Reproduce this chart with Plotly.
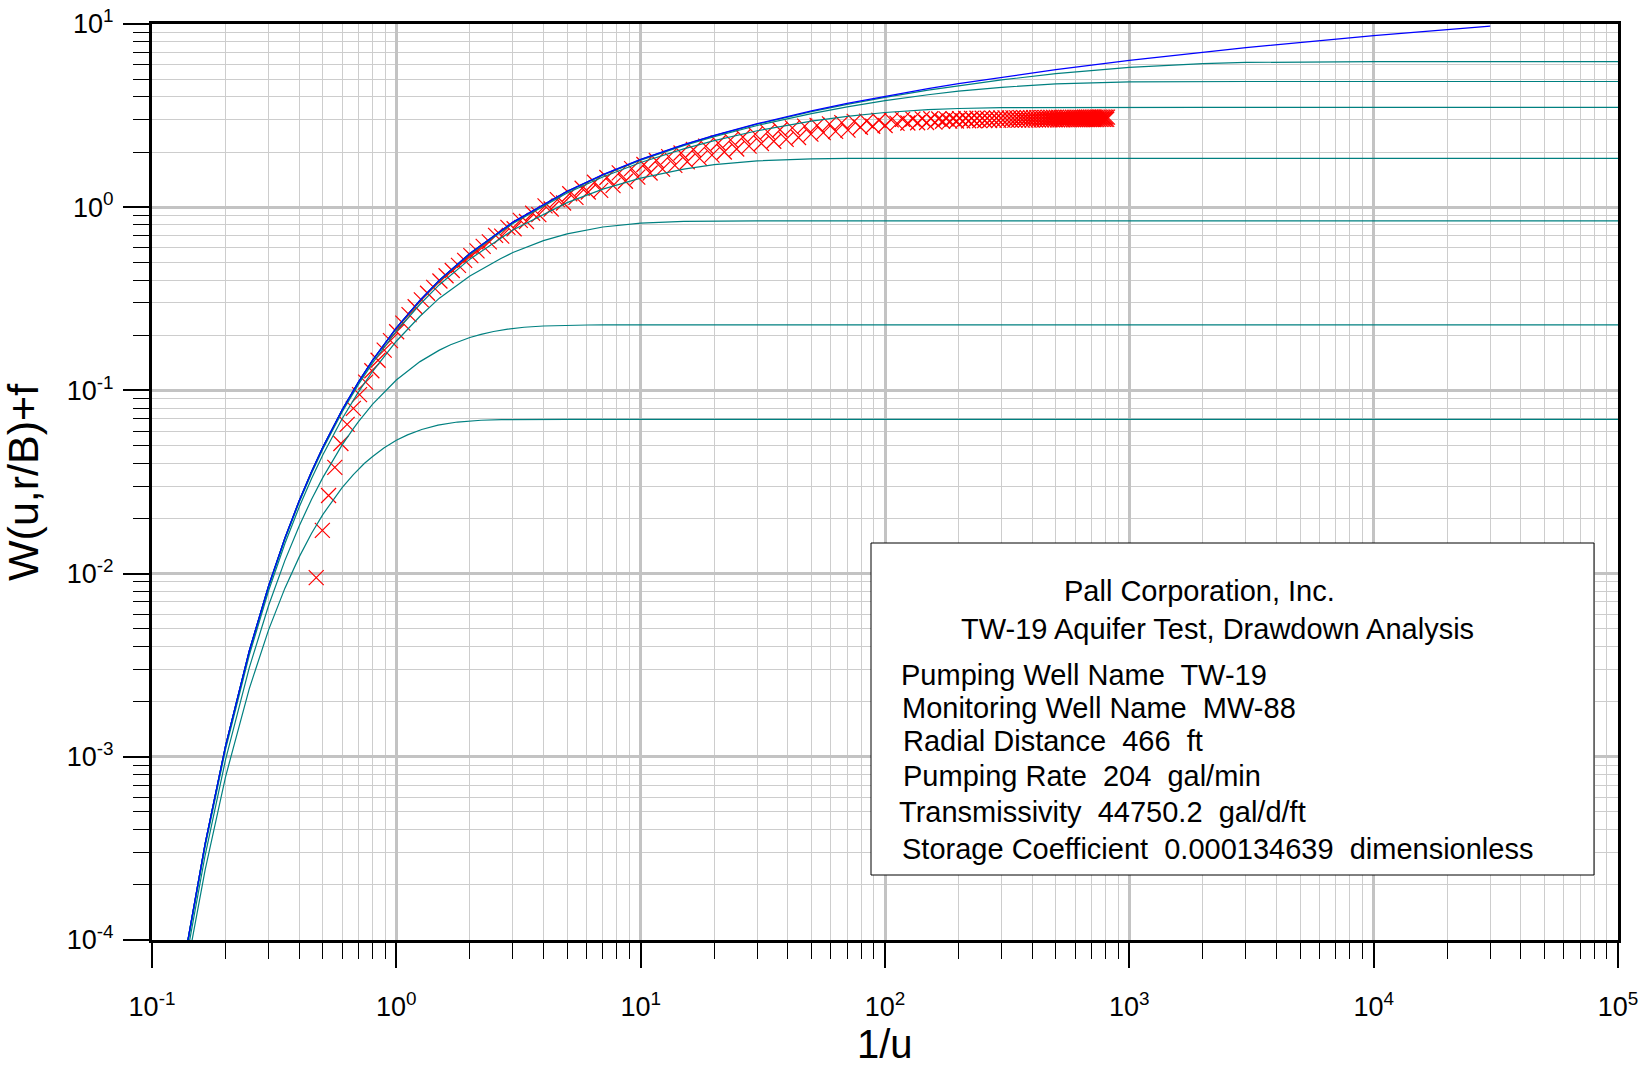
import plotly.graph_objects as go

# ---------------- type curves ----------------
grid_x = [0.14, 0.165, 0.2, 0.25, 0.3, 0.35, 0.4, 0.45, 0.5, 0.6, 0.7, 0.8, 1, 1.25, 1.5, 2, 3, 5, 7, 10,
          15, 20, 30, 50, 70, 100, 150, 200, 300, 500, 1000, 2000, 3000, 10000, 100000]

theis_x = [0.14, 0.165, 0.2, 0.25, 0.3, 0.35, 0.4, 0.45, 0.5, 0.6, 0.7, 0.8, 1, 1.25, 1.5, 2, 3, 5, 7, 10,
           15, 20, 30, 50, 70, 100, 150, 200, 300, 500, 1000, 2000, 3000, 10000, 30000]
theis_w = [9.86e-5, 3.358e-4, 1.148e-3, 3.779e-3, 8.575e-3, 0.015664, 0.02491, 0.03609, 0.0489, 0.07833,
           0.1113, 0.1464, 0.2194, 0.3106, 0.4, 0.5598, 0.829, 1.2227, 1.5067, 1.8229,
           2.1965, 2.4679, 2.857, 3.3547, 3.6856, 4.0379, 4.4401, 4.7261, 5.1299, 5.6394,
           6.3315, 7.0242, 7.4295, 8.6332, 9.732]

rb005_w = [9.86e-5, 3.358e-4, 1.148e-3, 3.779e-3, 8.574e-3, 0.01566, 0.0249, 0.03608, 0.04889, 0.07831,
           0.1113, 0.1463, 0.2193, 0.3104, 0.3998, 0.5594, 0.8282, 1.2209, 1.5038, 1.8184,
           2.1891, 2.4576, 2.8407, 3.3264, 3.6453, 3.9795, 4.3519, 4.6086, 4.9545, 5.3536,
           5.796, 6.082, 6.170, 6.2282, 6.2285]

rb01_w = [9.86e-5, 3.357e-4, 1.148e-3, 3.777e-3, 8.57e-3, 0.01565, 0.02489, 0.03606, 0.04885, 0.07824,
          0.1112, 0.1462, 0.2190, 0.3100, 0.3991, 0.5582, 0.8257, 1.2155, 1.4953, 1.8049,
          2.1672, 2.4271, 2.7929, 3.2442, 3.5294, 3.815, 4.1107, 4.2959, 4.514, 4.7079,
          4.8292, 4.853, 4.8541, 4.8541, 4.8541]

rb02_w = [9.84e-5, 3.353e-4, 1.146e-3, 3.771e-3, 8.554e-3, 0.01562, 0.02483, 0.03596, 0.04871, 0.07798,
          0.1107, 0.1456, 0.2179, 0.3081, 0.3963, 0.5533, 0.8159, 1.1944, 1.4621, 1.7527,
          2.083, 2.3111, 2.6151, 2.9521, 3.135, 3.2875, 3.4059, 3.4567, 3.4924, 3.5043,
          3.5054, 3.5054, 3.5054, 3.5054, 3.5054]

rb05_w = [9.76e-5, 3.327e-4, 1.1355e-3, 3.729e-3, 8.442e-3, 0.015389, 0.02442, 0.03531, 0.04773, 0.07617,
          0.1078, 0.1413, 0.2103, 0.2953, 0.3777, 0.5206, 0.7512, 1.059, 1.255, 1.4416,
          1.6153, 1.7075, 1.7923, 1.8378, 1.8464, 1.8485, 1.8488, 1.8488, 1.8488, 1.8488,
          1.8488, 1.8488, 1.8488, 1.8488, 1.8488]

rb1_x = [0.14, 0.165, 0.2, 0.25, 0.3, 0.35, 0.4, 0.45, 0.5, 0.6, 0.7, 0.8, 1, 1.25, 1.5, 2, 2.667, 3, 4, 5,
         7, 10, 15, 20, 30, 100000]
rb1_w = [9.535e-5, 3.237e-4, 1.099e-3, 3.584e-3, 8.06e-3, 0.014594, 0.02301, 0.03306, 0.04444, 0.07008,
         0.0981, 0.1272, 0.1855, 0.254, 0.3187, 0.421, 0.5233, 0.5657, 0.6565, 0.7148,
         0.7795, 0.819, 0.8372, 0.8409, 0.842, 0.842]

rb2_x = [0.14, 0.165, 0.2, 0.25, 0.3, 0.35, 0.4, 0.45, 0.5, 0.6, 0.667, 0.7, 0.8, 1, 1.25, 1.4286, 1.5,
         1.667, 2, 2.222, 2.5, 2.857, 3.333, 4, 5, 6.06, 7.14, 10, 100000]
rb2_w = [8.7e-5, 2.901e-4, 9.64e-4, 3.059e-3, 6.70e-3, 0.01181, 0.01815, 0.02547, 0.0334, 0.0504, 0.0619,
         0.0676, 0.0842, 0.1139, 0.1436, 0.1602, 0.1659, 0.1774, 0.1944, 0.2023, 0.2097, 0.216, 0.2211,
         0.2247, 0.2268, 0.2275, 0.2277, 0.2278, 0.2278]

rb3_x = [0.14, 0.165, 0.2, 0.25, 0.3, 0.35, 0.4, 0.45, 0.5, 0.6, 0.667, 0.741, 0.8, 0.889, 1.0, 1.111,
         1.27, 1.481, 1.778, 2.222, 2.694, 3.17, 5, 100000]
rb3_w = [7.43e-5, 2.416e-4, 7.78e-4, 2.35e-3, 4.93e-3, 8.33e-3, 0.0123, 0.0166, 0.021, 0.0295, 0.0347,
         0.0400, 0.0436, 0.0485, 0.0534, 0.0572, 0.0612, 0.0646, 0.0672, 0.0687, 0.0693, 0.0694,
         0.0695, 0.0695]

# ---------------- observed data (1/u , W) ----------------
obs_x_early = [0.470, 0.498, 0.528, 0.560, 0.593, 0.629, 0.667, 0.707, 0.749, 0.794,
               0.842, 0.892, 0.946, 1.003, 1.063, 1.127, 1.194, 1.266, 1.342, 1.422,
               1.508, 1.598, 1.694, 1.796, 1.904, 2.018, 2.139, 2.267, 2.403, 2.548,
               2.700, 2.862, 3.034, 3.216, 3.409, 3.614, 3.831, 4.060, 4.304, 4.562,
               4.836, 5.126, 5.434, 5.760, 6.105, 6.471, 6.860, 7.271, 7.708, 8.170,
               8.660, 9.180, 9.731, 10.31, 10.93, 11.59, 12.29, 13.02, 13.80, 14.63,
               15.51, 16.44, 17.43, 18.47, 19.58, 20.75, 22.00, 23.32, 24.72, 26.20,
               27.77, 29.44, 31.21, 33.08, 35.06, 37.17, 39.40, 41.76, 44.27, 46.92,
               49.74, 52.72, 55.89, 59.24, 62.79, 66.56, 70.55, 74.79, 79.27, 84.03,
               89.07, 94.42, 100.1]
obs_w_early = [0.0095, 0.0172, 0.0267, 0.0380, 0.0513, 0.0653, 0.0798, 0.0948, 0.111, 0.128,
               0.146, 0.166, 0.187, 0.209, 0.233, 0.259, 0.286, 0.312, 0.339, 0.365,
               0.3955, 0.4225, 0.4513, 0.4816, 0.5126, 0.5444, 0.578, 0.6114, 0.6462, 0.7023,
               0.6953, 0.7753, 0.7624, 0.8474, 0.8351, 0.9266, 0.9106, 1.0172, 0.9775, 1.1006,
               1.0537, 1.1841, 1.1312, 1.2685, 1.2108, 1.3684, 1.2361, 1.4531, 1.3105, 1.5383,
               1.385, 1.6231, 1.4594, 1.7094, 1.5367, 1.7984, 1.6148, 1.8873, 1.6925, 1.9761,
               1.7702, 2.0648, 1.8482, 2.153, 1.9254, 2.2409, 2.0022, 2.3291, 2.079, 2.4162,
               2.1549, 2.503, 2.2264, 2.5778, 2.2908, 2.646, 2.346, 2.709, 2.4012, 2.772,
               2.5051, 2.7976, 2.5521, 2.8496, 2.5944, 2.8964, 2.6367, 2.938, 2.7312, 2.951,
               2.7648, 2.9819, 2.7936]

obs_x_late = [106, 112, 118, 124, 130, 136, 142, 148, 154, 160, 166, 172, 178, 184, 190, 196, 202,
              208, 214, 220, 226, 232, 238, 244, 250, 256, 262, 268, 274, 280, 286, 292, 298,
              304, 310, 316, 322, 328, 334, 340, 346, 352, 358, 364, 370, 376, 382, 388, 394,
              400, 406, 412, 418, 424, 430, 436, 442, 448, 454, 460, 466, 472, 478, 484, 490,
              496, 502,
              508, 514, 520, 526, 532, 538, 544, 550, 556, 562, 568, 574, 580, 586, 592, 598,
              604, 610, 616, 622, 628, 634, 640, 646, 652, 658, 664, 670, 676, 682, 688, 694,
              700, 706, 712, 718, 724, 730, 736, 742, 748, 754, 760, 766, 772, 778, 784, 790,
              796, 802, 808, 814]
obs_w_late = [2.995, 2.865, 3.015, 2.88, 3.025, 2.89, 3.035, 2.9, 3.04, 2.915, 3.03, 2.945, 3.035,
              2.95, 3.04, 2.955, 3.045,
              2.96, 3.05, 2.965, 3.055, 2.965, 3.06, 2.97, 3.06, 2.975, 3.065, 2.975, 3.065, 2.98,
              3.07, 2.98, 3.07,
              2.985, 3.075, 2.985, 3.075, 2.985, 3.075, 2.985, 3.075, 2.99, 3.08, 2.99, 3.08, 2.99,
              3.08, 2.99, 3.08, 2.99, 3.08, 2.995, 3.085, 2.995, 3.085, 2.995, 3.085, 2.995, 3.085,
              3.0, 3.09, 3.0, 3.09, 3.0, 3.09, 3.0, 3.09,
              3.0, 3.09, 3.0, 3.09, 3.0, 3.09, 3.005, 3.095, 3.005, 3.095, 3.005, 3.095,
              3.005, 3.095, 3.005, 3.095, 3.005, 3.095, 3.005, 3.095, 3.005, 3.095, 3.005, 3.095,
              3.01, 3.10, 3.01, 3.10, 3.01, 3.10, 3.01, 3.10, 3.01, 3.10, 3.01, 3.10,
              3.01, 3.10, 3.01, 3.10, 3.015, 3.105, 3.015, 3.105, 3.015, 3.105, 3.015, 3.105,
              3.015, 3.105, 3.015, 3.105]

x_tick_vals = [0.1, 1, 10, 100, 1000, 10000, 100000]
x_tick_text = ['10<sup>-1</sup>', '10<sup>0</sup>', '10<sup>1</sup>', '10<sup>2</sup>',
               '10<sup>3</sup>', '10<sup>4</sup>', '10<sup>5</sup>']
y_tick_vals = [1e-4, 1e-3, 1e-2, 1e-1, 1, 10]
y_tick_text = ['10<sup>-4</sup>', '10<sup>-3</sup>', '10<sup>-2</sup>', '10<sup>-1</sup>',
               '10<sup>0</sup>', '10<sup>1</sup>']

info_title = ['Pall Corporation, Inc.', 'TW-19 Aquifer Test, Drawdown Analysis']
info_lines = ['Pumping Well Name  TW-19', 'Monitoring Well Name  MW-88', 'Radial Distance  466  ft',
              'Pumping Rate  204  gal/min', 'Transmissivity  44750.2  gal/d/ft',
              'Storage Coefficient  0.000134639  dimensionless']

# ---------------- figure ----------------
W_PX, H_PX = 1642, 1066
L, R, T, B = 152, 1618, 24, 940


def px(x):
    return (x - L) / (R - L)


def py(y):
    return (B - y) / (B - T)


FONT = 'Liberation Sans, Arial, Helvetica, sans-serif'
TEAL = '#008080'

fig = go.Figure()
fig.add_trace(go.Scatter(x=obs_x_early + obs_x_late, y=obs_w_early + obs_w_late, mode='markers',
                         marker=dict(symbol='x-thin', size=15, color='#ff0000',
                                     line=dict(color='#ff0000', width=1.2)),
                         name='Observed'))
for name, xs, ws in [('r/B=3', rb3_x, rb3_w), ('r/B=2', rb2_x, rb2_w), ('r/B=1', rb1_x, rb1_w),
                     ('r/B=0.5', grid_x, rb05_w), ('r/B=0.2', grid_x, rb02_w),
                     ('r/B=0.1', grid_x, rb01_w), ('r/B=0.05', grid_x, rb005_w)]:
    fig.add_trace(go.Scatter(x=xs, y=ws, mode='lines', line=dict(color=TEAL, width=1.2), name=name))
fig.add_trace(go.Scatter(x=theis_x, y=theis_w, mode='lines', line=dict(color='#0000ff', width=1.2),
                         name='Theis'))

axis_common = dict(type='log', showline=True, linewidth=3, linecolor='black', mirror=True,
                   ticks='outside', tickwidth=2, tickcolor='black', automargin=False,
                   showgrid=True, gridcolor='#c3c3c3', gridwidth=3, zeroline=False,
                   tickfont=dict(family=FONT, size=27, color='black'),
                   minor=dict(dtick='D1', ticks='outside', ticklen=16, tickwidth=1, tickcolor='black',
                              showgrid=True, gridcolor='#cdcdcd', gridwidth=1))

fig.update_layout(
    width=W_PX, height=H_PX,
    margin=dict(l=L, r=W_PX - R, t=T, b=H_PX - B, pad=0, autoexpand=False),
    paper_bgcolor='white', plot_bgcolor='white', showlegend=False,
    font=dict(family=FONT, color='black'),
    xaxis=dict(axis_common, range=[-1, 5], tickvals=x_tick_vals, ticktext=x_tick_text,
               ticklen=25, ticklabelstandoff=16),
    yaxis=dict(axis_common, range=[-4, 1], tickvals=y_tick_vals, ticktext=y_tick_text,
               ticklen=26, ticklabelstandoff=4),
)

# axis titles
fig.add_annotation(text='1/u', xref='paper', yref='paper', x=0.5, y=py(1044), xanchor='center',
                   yanchor='middle', showarrow=False, font=dict(family=FONT, size=40, color='black'))
fig.add_annotation(text='W(u,r/B)+f', xref='paper', yref='paper', x=px(23), y=0.5, xanchor='center',
                   yanchor='middle', textangle=-90, showarrow=False,
                   font=dict(family=FONT, size=43, color='black'))

# info box
fig.add_shape(type='rect', xref='paper', yref='paper', x0=px(871), x1=px(1594), y0=py(875), y1=py(543),
              line=dict(color='black', width=1), fillcolor='white', layer='above')
title_pos = [(1199.5, 591), (1217.5, 628.5)]
for txt, (cx, cy) in zip(info_title, title_pos):
    fig.add_annotation(text=txt, xref='paper', yref='paper', x=px(cx), y=py(cy), xanchor='center',
                       yanchor='middle', showarrow=False, font=dict(family=FONT, size=29, color='black'))
line_pos = [(898.5, 675), (899.5, 708), (900.5, 741), (900.5, 775.5), (896.5, 812), (899.5, 848.5)]
for txt, (lx, ly) in zip(info_lines, line_pos):
    fig.add_annotation(text=txt.replace('  ', '&nbsp; '), xref='paper', yref='paper', x=px(lx), y=py(ly),
                       xanchor='left', yanchor='middle', showarrow=False,
                       font=dict(family=FONT, size=29, color='black'))

fig.write_html('out.html', config={'displayModeBar': False})
